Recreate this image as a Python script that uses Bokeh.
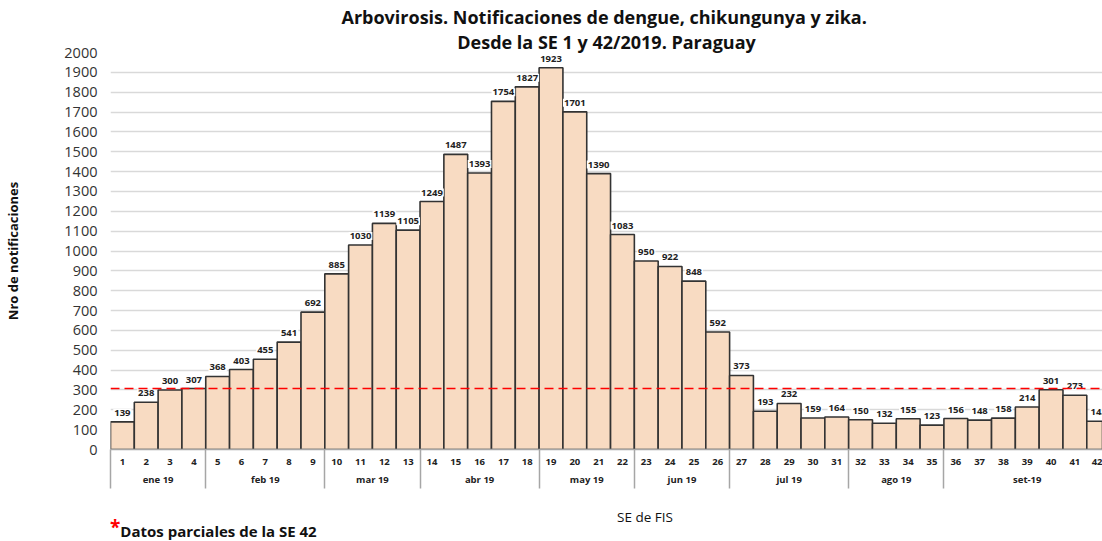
from bokeh.plotting import figure
from bokeh.models import (Range1d, FixedTicker, LinearAxis, Span, Title,
                          ColumnDataSource, Div)
from bokeh.layouts import column
from bokeh.core.properties import value
from bokeh.embed import file_html
from bokeh.resources import INLINE

# ---- data ----
semanas = list(range(1, 43))
notificaciones = [139, 238, 300, 307, 368, 403, 455, 541, 692, 885,
                  1030, 1139, 1105, 1249, 1487, 1393, 1754, 1827, 1923, 1701,
                  1390, 1083, 950, 922, 848, 592, 373, 193, 232, 159,
                  164, 150, 132, 155, 123, 156, 148, 158, 214, 301,
                  273, 142]
meses = ["ene 19", "feb 19", "mar 19", "abr 19", "may 19", "jun 19",
         "jul 19", "ago 19", "set-19"]
semanas_por_mes = [4, 5, 4, 5, 4, 4, 5, 4, 7]
umbral = 307
y_ticks = list(range(0, 2001, 100))

titulo1 = "Arbovirosis. Notificaciones  de dengue, chikungunya y zika."
titulo2 = "Desde la SE 1 y 42/2019. Paraguay"
eje_x = "SE de FIS"
nota = "Datos parciales de la SE 42"
FONT = "Open Sans"

# month boundaries and centres derived from the week counts
limites = [0.5]
for n in semanas_por_mes:
    limites.append(limites[-1] + n)
centros = [(limites[i] + limites[i + 1]) / 2 for i in range(len(meses))]

p = figure(width=1102, height=493, output_backend="svg", toolbar_location=None,
           x_range=Range1d(0.5, 42.16), y_range=Range1d(0, 2000),
           min_border_left=110, min_border_right=0, min_border_top=52,
           min_border_bottom=44)
p.outline_line_color = None
p.title = None

t2 = Title(text=titulo2, align="center", text_font=FONT, text_font_size="18px",
           text_font_style="bold", text_color="#111111", standoff=-3)
t1 = Title(text=titulo1, align="center", text_font=FONT, text_font_size="18px",
           text_font_style="bold", text_color="#111111", standoff=1)
p.add_layout(t2, "above")
p.add_layout(t1, "above")

src = ColumnDataSource(dict(x=semanas, top=notificaciones,
                            lbl=[str(v) for v in notificaciones]))
p.vbar(x="x", top="top", width=1.0, source=src, fill_color="#F8DBC2",
       line_color="#333333", line_width=1.6)

p.text(x="x", y="top", text="lbl", source=src, y_offset=-5,
       text_align="center", text_baseline="bottom", text_font=value(FONT),
       text_font_size="9.5px", text_font_style="bold", text_color="#222222",
       background_fill_color="white", padding=1)

p.add_layout(Span(location=umbral, dimension="width", line_color="#FF0000",
                  line_dash="9 5", line_width=1.5))

# y axis
yax = p.yaxis[0]
yax.ticker = FixedTicker(ticks=y_ticks)
yax.axis_line_color = None
yax.major_tick_line_color = None
yax.minor_tick_line_color = None
yax.major_tick_out = 0
yax.major_tick_in = 0
yax.major_label_text_font = FONT
yax.major_label_text_font_size = "14.5px"
yax.major_label_text_color = "#333333"
yax.major_label_standoff = 13
yax.axis_label = "Nro de notificaciones"
yax.axis_label_text_font = FONT
yax.axis_label_text_font_size = "13px"
yax.axis_label_text_font_style = "bold"
yax.axis_label_text_color = "#111111"
yax.axis_label_standoff = 39
p.ygrid.grid_line_color = "#d9d9d9"
p.ygrid.grid_line_width = 1.5
p.ygrid.ticker = FixedTicker(ticks=y_ticks)
p.xgrid.grid_line_color = None

# x axis: weeks
xax = p.xaxis[0]
xax.ticker = FixedTicker(ticks=semanas)
xax.axis_line_color = "#a6a6a6"
xax.axis_line_width = 1.5
xax.major_tick_line_color = None
xax.minor_tick_line_color = None
xax.major_tick_in = 0
xax.major_tick_out = 0
xax.minor_tick_in = 0
xax.minor_tick_out = 0
xax.major_label_text_font = FONT
xax.major_label_text_font_size = "9.5px"
xax.major_label_text_font_style = "bold"
xax.major_label_text_color = "#222222"
xax.major_label_standoff = 9

# month labels
mes_ax = LinearAxis(ticker=FixedTicker(ticks=centros),
                    major_label_overrides={c: m for c, m in zip(centros, meses)})
mes_ax.axis_line_color = None
mes_ax.major_tick_line_color = None
mes_ax.minor_tick_line_color = None
mes_ax.major_tick_in = 0
mes_ax.major_tick_out = 0
mes_ax.minor_tick_in = 0
mes_ax.minor_tick_out = 0
mes_ax.major_label_text_font = FONT
mes_ax.major_label_text_font_size = "9.5px"
mes_ax.major_label_text_font_style = "bold"
mes_ax.major_label_text_color = "#222222"
mes_ax.major_label_standoff = 5
p.add_layout(mes_ax, "below")

# month dividers: ticks pointing back up towards the plot
div_ax = LinearAxis(ticker=FixedTicker(ticks=limites),
                    major_label_overrides={b: "" for b in limites})
div_ax.axis_line_color = None
div_ax.major_tick_line_color = "#a6a6a6"
div_ax.major_tick_line_width = 1.5
div_ax.minor_tick_line_color = None
div_ax.major_tick_in = 39
div_ax.major_tick_out = 0
div_ax.minor_tick_in = 0
div_ax.minor_tick_out = 0
div_ax.major_label_text_font_size = "0px"
div_ax.major_label_standoff = 0
p.add_layout(div_ax, "below")

pie = Div(
    text=(
        f'<div style="position:relative;width:1102px;height:48px;'
        f'font-family:\'{FONT}\';color:#111111;">'
        f'<span style="position:absolute;left:617px;top:16px;font-size:13.5px;'
        f'line-height:16px;white-space:nowrap;">{eje_x}</span>'
        f'<span style="position:absolute;left:110px;top:28px;font-size:15px;'
        f'line-height:18px;font-weight:bold;white-space:nowrap;">'
        f'<span style="color:#FF0000;font-size:19px;position:relative;top:-3px;">*</span>'
        f'{nota}</span></div>'
    ),
    width=1102, height=48, margin=0)

layout = column(p, pie, spacing=0)
open("out.html", "w").write(file_html(layout, INLINE))
